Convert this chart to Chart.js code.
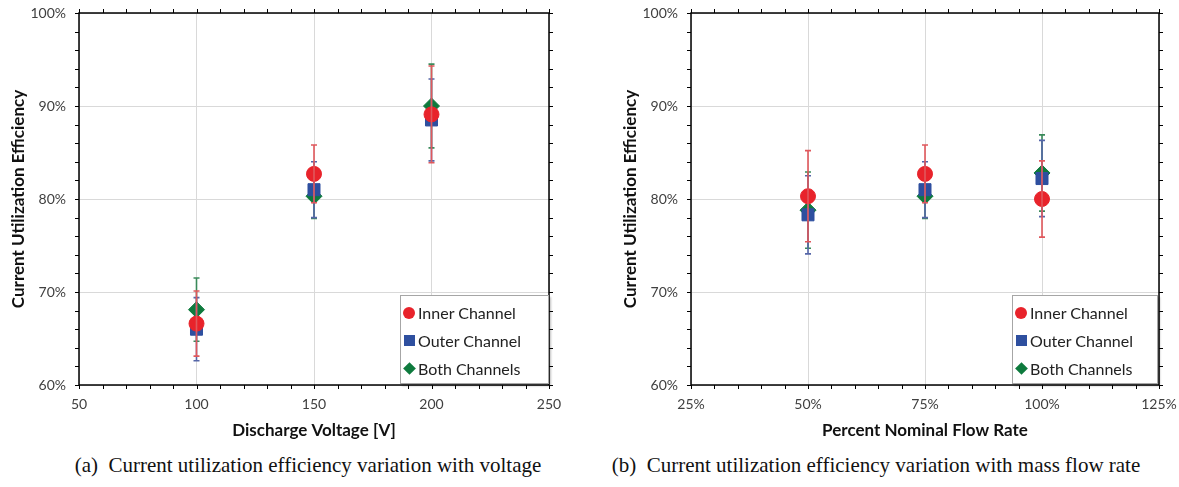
<!DOCTYPE html>
<html>
<head>
<meta charset="utf-8">
<script src="https://cdn.jsdelivr.net/npm/chart.js@4.4.1/dist/chart.umd.min.js"></script>
<style>
  body { margin: 0; background: #fff; width: 1179px; height: 487px; position: relative; overflow: hidden; }
  .box { position: absolute; top: 0; height: 445px; }
  .legend {
    position: absolute; background: #fff; border: 1.5px solid #a6a6a6;
    box-shadow: 2px 2px 2px rgba(0,0,0,0.25);
    font-family: Lato, sans-serif; font-size: 16px; color: #222;
  }
  .legend div { position: absolute; left: 17px; line-height: 18px; white-space: nowrap; }
  .legend span { position: absolute; }
  .caption {
    position: absolute; top: 453px; font-family: "Liberation Serif", serif; font-size: 21px;
    color: #111; white-space: nowrap; transform: translateX(-50%);
  }
</style>
</head>
<body>
<div class="box" style="left:0; width:600px;"><canvas id="voltageChart"></canvas></div>
<div class="box" style="left:612px; width:567px;"><canvas id="flowChart"></canvas></div>

<div class="legend" style="left:400px; top:295px; width:147px; height:87px;">
  <span style="left:2px; top:11px; width:12px; height:12px; border-radius:50%; background:#e8232b;"></span>
  <div style="top:8px;">Inner Channel</div>
  <span style="left:3px; top:39px; width:11px; height:11px; background:#2e4f9f;"></span>
  <div style="top:36px;">Outer Channel</div>
  <span style="left:4px; top:68px; width:9px; height:9px; background:#0e7a3d; transform:rotate(45deg);"></span>
  <div style="top:64px;">Both Channels</div>
</div>
<div class="legend" style="left:1012px; top:295px; width:144px; height:87px;">
  <span style="left:2px; top:11px; width:12px; height:12px; border-radius:50%; background:#e8232b;"></span>
  <div style="top:8px;">Inner Channel</div>
  <span style="left:3px; top:39px; width:11px; height:11px; background:#2e4f9f;"></span>
  <div style="top:36px;">Outer Channel</div>
  <span style="left:4px; top:68px; width:9px; height:9px; background:#0e7a3d; transform:rotate(45deg);"></span>
  <div style="top:64px;">Both Channels</div>
</div>

<div class="caption" style="left:308px;">(a)&nbsp; Current utilization efficiency variation with voltage</div>
<div class="caption" style="left:876px;">(b)&nbsp; Current utilization efficiency variation with mass flow rate</div>

<script>
// Data (efficiency in percent)
const voltages = [100, 150, 200];
const innerByVoltage = [66.6, 82.7, 89.1];
const innerByVoltageErr = [3.5, 3.1, 5.2];
const outerByVoltage = [66.0, 81.0, 88.5];
const outerByVoltageErr = [3.4, 3.0, 4.4];
const bothByVoltage = [68.1, 80.3, 90.0];
const bothByVoltageErr = [3.4, 2.4, 4.5];

const flowRates = [50, 75, 100];
const innerByFlow = [80.3, 82.7, 80.0];
const innerByFlowErr = [4.9, 3.1, 4.1];
const outerByFlow = [78.3, 81.0, 82.2];
const outerByFlowErr = [4.2, 3.0, 4.1];
const bothByFlow = [78.8, 80.3, 82.8];
const bothByFlowErr = [4.1, 2.4, 4.1];

const yTicks = [60, 70, 80, 90, 100];

Chart.defaults.font.family = 'Lato, "Open Sans", sans-serif';
Chart.defaults.color = '#404040';

const RED = '#e8232b', BLUE = '#2e4f9f', GREEN = '#0e7a3d';

function points(xs, ys) {
  return xs.map((x, i) => ({ x: x, y: ys[i] }));
}

// error bars drawn after each dataset, through the chart scales
const errorBars = {
  id: 'errorBars',
  afterDatasetDraw(chart, args) {
    const ds = chart.data.datasets[args.index];
    if (!ds.errors) return;
    const xs = chart.scales.x, ys = chart.scales.y;
    const ctx = chart.ctx;
    ctx.save();
    ctx.strokeStyle = ds.errorColor;
    ctx.lineWidth = 1.6;
    ds.data.forEach((p, i) => {
      const px = xs.getPixelForValue(p.x);
      const top = ys.getPixelForValue(p.y + ds.errors[i]);
      const bot = ys.getPixelForValue(p.y - ds.errors[i]);
      ctx.beginPath();
      ctx.moveTo(px, top); ctx.lineTo(px, bot);
      ctx.moveTo(px - 3, top); ctx.lineTo(px + 3, top);
      ctx.moveTo(px - 3, bot); ctx.lineTo(px + 3, bot);
      ctx.stroke();
    });
    ctx.restore();
  }
};

// black frame with outward tick marks on every side
const frameTicks = {
  id: 'frameTicks',
  afterDraw(chart) {
    const { ctx, chartArea: a } = chart;
    const xs = chart.scales.x, ys = chart.scales.y;
    const minor = chart.options.plugins.frameTicks.xMinor;
    ctx.save();
    ctx.strokeStyle = '#000';
    ctx.lineWidth = 1.5;
    ctx.strokeRect(a.left, a.top, a.right - a.left, a.bottom - a.top);
    ctx.lineWidth = 1;
    ctx.beginPath();
    for (let v = xs.min; v <= xs.max + 0.001; v += minor) {
      const px = Math.round(xs.getPixelForValue(v)) + 0.5;
      ctx.moveTo(px, a.bottom); ctx.lineTo(px, a.bottom + 4);
      ctx.moveTo(px, a.top); ctx.lineTo(px, a.top - 4);
    }
    for (let v = ys.min; v <= ys.max + 0.001; v += 2) {
      const py = Math.round(ys.getPixelForValue(v)) + 0.5;
      ctx.moveTo(a.left, py); ctx.lineTo(a.left - 4, py);
      ctx.moveTo(a.right, py); ctx.lineTo(a.right + 4, py);
    }
    ctx.stroke();
    ctx.restore();
  }
};

function makeChart(id, xs, inner, innerErr, outer, outerErr, both, bothErr, xOpts, padLeft, padRight, xTitle) {
  return new Chart(document.getElementById(id), {
    type: 'scatter',
    data: {
      datasets: [
        { label: 'Inner Channel', data: points(xs, inner), errors: innerErr, errorColor: '#e0585c',
          pointStyle: 'circle', pointRadius: 7.5, backgroundColor: RED, borderColor: RED },
        { label: 'Outer Channel', data: points(xs, outer), errors: outerErr, errorColor: '#5566a8',
          pointStyle: 'rect', pointRadius: 8.5, backgroundColor: BLUE, borderColor: BLUE },
        { label: 'Both Channels', data: points(xs, both), errors: bothErr, errorColor: '#3a8a5a',
          pointStyle: 'rectRot', pointRadius: 8, backgroundColor: GREEN, borderColor: GREEN }
      ]
    },
    options: {
      responsive: true,
      maintainAspectRatio: false,
      animation: false,
      layout: { padding: { left: padLeft, right: padRight, top: 13, bottom: 0 } },
      plugins: {
        legend: { display: false },
        tooltip: { enabled: false },
        frameTicks: { xMinor: xOpts.minor }
      },
      scales: {
        x: {
          type: 'linear', min: xOpts.min, max: xOpts.max,
          afterFit: (s) => { s.height = 60; s.paddingLeft = 0; s.paddingRight = 0; },
          ticks: { stepSize: xOpts.step, padding: 11, font: { size: 14 },
                   callback: xOpts.format },
          grid: { color: '#d9d9d9', drawTicks: false },
          border: { display: false },
          title: { display: true, text: xTitle, color: '#111',
                   font: { size: 17, weight: 'bold' }, padding: { top: 4, bottom: 4 } }
        },
        y: {
          min: 60, max: 100,
          afterFit: (s) => { s.width = 79; s.paddingTop = 0; s.paddingBottom = 0; },
          afterBuildTicks: (s) => { s.ticks = yTicks.map(v => ({ value: v })); },
          ticks: { padding: 13, font: { size: 14 }, callback: (v) => v + '%' },
          grid: { color: '#d9d9d9', drawTicks: false },
          border: { display: false },
          title: { display: true, text: 'Current Utilization Efficiency', color: '#111',
                   font: { size: 17, weight: 'bold' }, padding: { top: 8, bottom: 8 } }
        }
      }
    },
    plugins: [errorBars, frameTicks]
  });
}

makeChart('voltageChart', voltages, innerByVoltage, innerByVoltageErr, outerByVoltage, outerByVoltageErr,
  bothByVoltage, bothByVoltageErr,
  { min: 50, max: 250, step: 50, minor: 10, format: (v) => v },
  0, 51, 'Discharge Voltage [V]');

makeChart('flowChart', flowRates, innerByFlow, innerByFlowErr, outerByFlow, outerByFlowErr,
  bothByFlow, bothByFlowErr,
  { min: 25, max: 125, step: 25, minor: 5, format: (v) => v + '%' },
  0, 20, 'Percent Nominal Flow Rate');
</script>
</body>
</html>
